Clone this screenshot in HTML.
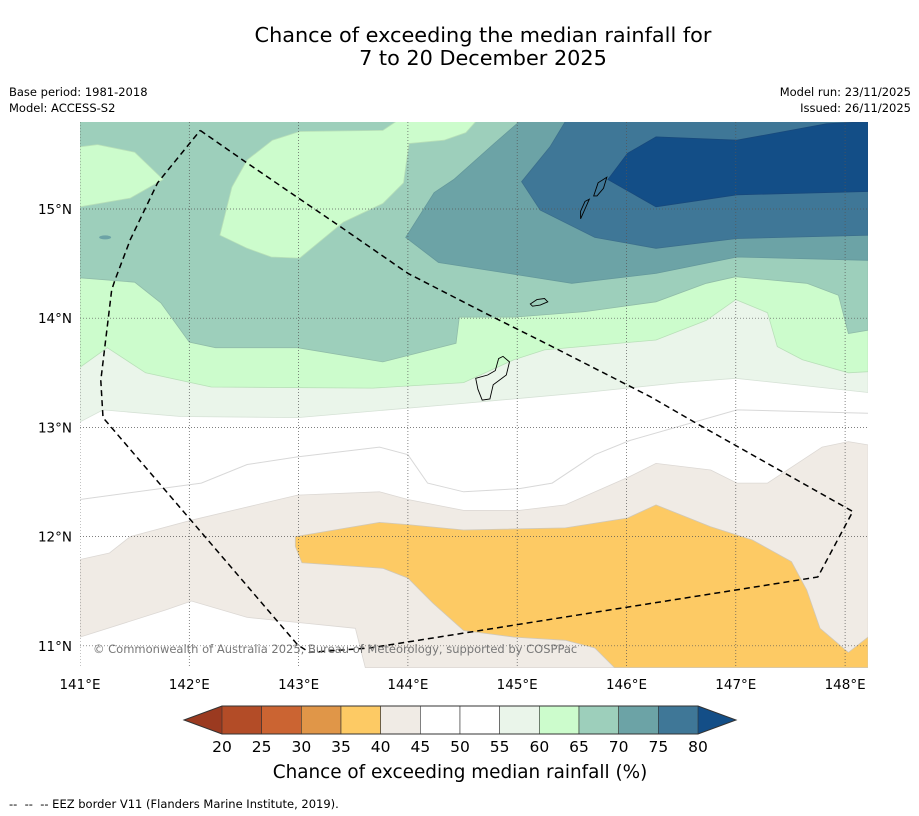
<!DOCTYPE html>
<html><head><meta charset="utf-8"><style>
body{margin:0;background:#fff;width:919px;height:816px;overflow:hidden;font-family:"DejaVu Sans",sans-serif;}
svg{display:block}
</style></head><body>
<svg id="chart" width="919" height="816" viewBox="0 0 919 816" xmlns="http://www.w3.org/2000/svg" font-family="DejaVu Sans, sans-serif">
<rect width="919" height="816" fill="#fff"/>
<text x="483" y="42" font-size="20.8" text-anchor="middle">Chance of exceeding the median rainfall for</text>
<text x="483" y="65" font-size="20.8" text-anchor="middle">7 to 20 December 2025</text>
<text x="9" y="96" font-size="11.5">Base period: 1981-2018</text>
<text x="9" y="112" font-size="11.5">Model: ACCESS-S2</text>
<text x="911" y="96" font-size="11.5" text-anchor="end">Model run: 23/11/2025</text>
<text x="911" y="112" font-size="11.5" text-anchor="end">Issued: 26/11/2025</text>
<defs><clipPath id="mapclip"><rect x="80" y="122" width="788" height="546"/></clipPath></defs>
<g id="map" clip-path="url(#mapclip)"></g>
<g id="axes"></g>
<g id="cbar"></g>
<text x="460" y="778" font-size="18.4" text-anchor="middle">Chance of exceeding median rainfall (%)</text>
<text x="9" y="808" font-size="11.5" xml:space="preserve" style="white-space:pre">--  --  -- EEZ border V11 (Flanders Marine Institute, 2019).</text>
</svg>
<script>
const lonMin = 141, lonMax = 148.21, latMin = 10.80, latMax = 15.80;
const lonTicks = [141,142,143,144,145,146,147,148];
const latTicks = [11,12,13,14,15];
const region40 = [[141,11.79],[141.27,11.85],[141.46,12.00],[142.02,12.15],[142.99,12.38],[143.74,12.41],[144.00,12.34],[144.51,12.24],[145.02,12.24],[145.44,12.29],[146.03,12.55],[146.27,12.67],[146.77,12.61],[147.01,12.49],[147.29,12.49],[147.79,12.82],[148.03,12.87],[148.21,12.84],[148.21,10.80],[143.61,10.80],[143.52,11.16],[143.03,11.21],[142.53,11.26],[142.02,11.41],[141.79,11.33],[141,11.08]];
const line50 = [[141,12.34],[142.11,12.49],[142.53,12.66],[142.99,12.73],[143.74,12.82],[144.00,12.75],[144.18,12.49],[144.51,12.41],[145.02,12.44],[145.32,12.49],[145.71,12.75],[146.03,12.88],[147.01,13.16],[148.21,13.13]];
const region35 = [[142.97,12.00],[143.74,12.13],[144.00,12.11],[144.51,12.06],[145.44,12.08],[146.01,12.17],[146.27,12.29],[146.77,12.09],[147.15,11.97],[147.51,11.77],[147.65,11.51],[147.77,11.16],[148.03,10.94],[148.21,11.08],[148.21,10.80],[145.89,10.80],[145.71,10.98],[145.44,11.05],[144.97,11.08],[144.51,11.14],[144.23,11.39],[144.00,11.62],[143.77,11.71],[143.03,11.76],[142.97,11.91]];
const line55 = [[141,13.05],[141.21,13.16],[141.92,13.10],[142.99,13.09],[144.51,13.22],[145.62,13.32],[146.49,13.41],[147.00,13.45],[148.21,13.32]];
const line60 = [[141,13.55],[141.25,13.73],[141.60,13.50],[142.20,13.37],[143.68,13.36],[144.51,13.41],[144.97,13.62],[145.25,13.71],[146.27,13.80],[146.73,13.98],[147.00,14.17],[147.29,14.05],[147.38,13.74],[147.61,13.62],[148.03,13.50],[148.21,13.51]];
const line65 = [[141,14.37],[141.50,14.33],[141.74,14.14],[142.00,13.78],[142.24,13.73],[142.99,13.73],[143.77,13.60],[144.44,13.77],[144.47,14.01],[144.97,14.01],[145.62,14.06],[146.27,14.15],[146.73,14.32],[147.00,14.38],[147.65,14.32],[147.94,14.21],[148.03,13.86],[148.21,13.89]];
const patch60a = [[141,15.57],[141.16,15.59],[141.50,15.52],[141.76,15.27],[141.46,15.10],[141,15.02]];
const patch60b = [[143.01,15.71],[142.76,15.63],[142.53,15.45],[142.39,15.20],[142.28,14.76],[142.53,14.64],[142.75,14.56],[143.01,14.55],[143.41,14.88],[143.77,15.05],[143.96,15.24],[144.01,15.60],[144.33,15.63],[144.53,15.70],[144.62,15.80],[143.89,15.80],[143.77,15.72]];
const region70 = [[145.02,15.80],[144.79,15.60],[144.42,15.27],[144.24,15.15],[143.98,14.74],[144.28,14.51],[144.92,14.41],[145.50,14.32],[146.27,14.41],[147.01,14.56],[148.21,14.53],[148.21,15.80]];
const region75 = [[145.44,15.80],[145.30,15.57],[145.04,15.25],[145.21,14.99],[145.71,14.74],[146.27,14.64],[147.01,14.73],[148.21,14.76],[148.21,15.80]];
const region80 = [[146.27,15.66],[147.01,15.63],[147.83,15.78],[148.21,15.80],[148.21,15.16],[147.01,15.13],[146.27,15.02],[145.83,15.27],[146.01,15.51]];
const eez = [[142.10,15.72],[142.53,15.42],[143.38,14.84],[144.00,14.41],[144.70,14.05],[145.30,13.75],[146.22,13.28],[146.67,13.02],[148.07,12.23],[147.75,11.63],[143.65,10.98],[143.10,10.94],[142.99,11.01],[141.21,13.09],[141.19,13.43],[141.29,14.26],[141.32,14.35],[141.46,14.72],[141.71,15.24],[142.10,15.72]];
const guam = [[144.62,13.45],[144.73,13.48],[144.80,13.52],[144.83,13.63],[144.87,13.65],[144.93,13.60],[144.90,13.48],[144.78,13.39],[144.75,13.26],[144.68,13.25],[144.64,13.35]];
const rota = [[145.12,14.13],[145.18,14.17],[145.25,14.18],[145.28,14.15],[145.21,14.12],[145.14,14.11]];
const tinian = [[145.58,14.91],[145.62,15.00],[145.66,15.09],[145.62,15.07],[145.58,14.98]];
const saipan = [[145.70,15.12],[145.74,15.24],[145.82,15.29],[145.79,15.19],[145.73,15.12]];
const cbarLevels = [20,25,30,35,40,45,50,55,60,65,70,75,80];
const cbarColors = ["#b34c27","#cb6432","#e09648","#fdca64","#f0ebe5","#ffffff","#ffffff","#eaf5ea","#ccfccc","#9dcfbb","#6ca3a6","#3f7797"];
const cbarUnder = "#9b3a20", cbarOver = "#134e87";

const NS = "http://www.w3.org/2000/svg";
const X = lon => 80 + (lon - lonMin) * 109.3;
const Y = lat => 209 + (15 - lat) * 109.2;
const pts = a => a.map(p => X(p[0]).toFixed(1) + "," + Y(p[1]).toFixed(1)).join(" ");
function mk(parent, tag, attrs){const e=document.createElementNS(NS,tag);for(const k in attrs)e.setAttribute(k,attrs[k]);parent.appendChild(e);return e;}
const mapG = document.getElementById("map");
function poly(a, fill, name, stroke){
  const e = mk(mapG,"polygon",{points:pts(a),fill:fill,stroke:stroke||"none","stroke-width":0.8});
  
  
  return e;
}
const topEdge = [[lonMax,latMax],[lonMin,latMax]];
const bg = mk(mapG,"rect",{x:80,y:122,width:788,height:546,fill:"#fff"});


poly(region40,"#f0ebe5","region-40-45","#dcd8d4");
poly(region35,"#fdca64","region-35-40","#d0c8b8");
poly(line55.concat(topEdge),"#eaf5ea","region-55-60","#d6e2d6");
poly(line60.concat(topEdge),"#ccfccc","region-60-65","#b8e0b8");
poly(line65.concat(topEdge),"#9dcfbb","region-65-70","#90bca9");
poly(patch60a,"#ccfccc","patch-60-65-west","#b8e0b8");
poly(patch60b,"#ccfccc","patch-60-65-north","#b8e0b8");
poly(region70,"#6ca3a6","region-70-75","#64989b");
poly(region75,"#3f7797","region-75-80","#3c6f8c");
poly(region80,"#134e87","region-above-80","#18497c");
const l50 = mk(mapG,"polyline",{points:pts(line50),fill:"none",stroke:"#d8d8d8","stroke-width":1});


const blob = mk(mapG,"ellipse",{cx:X(141.23),cy:Y(14.74),rx:6,ry:2,fill:"#6ca3a6"});


lonTicks.forEach(l=>{const g=mk(mapG,"line",{x1:X(l),x2:X(l),y1:122,y2:668,stroke:"#555","stroke-width":0.7,"stroke-dasharray":"1,2"});

});
latTicks.forEach(l=>{const g=mk(mapG,"line",{x1:80,x2:868,y1:Y(l),y2:Y(l),stroke:"#555","stroke-width":0.7,"stroke-dasharray":"1,2"});

});
[[guam,"guam-island"],[rota,"rota-island"],[tinian,"tinian-island"],[saipan,"saipan-island"]].forEach(([a,n])=>{
  const e=mk(mapG,"polygon",{points:pts(a),fill:"none",stroke:"#000","stroke-width":0.9});
  
  
});
const ez = mk(mapG,"polyline",{points:pts(eez),fill:"none",stroke:"#000","stroke-width":1.5,"stroke-dasharray":"6,4"});


const cp = mk(mapG,"text",{x:93,y:653,"font-size":11.5,fill:"#777"});
cp.textContent = "© Commonwealth of Australia 2025, Bureau of Meteorology, supported by COSPPac";


const axes = document.getElementById("axes");
lonTicks.forEach(l=>{const t=mk(axes,"text",{x:X(l),y:689,"font-size":13.5,"text-anchor":"middle"});t.textContent=l+"°E";

});
latTicks.forEach(l=>{const t=mk(axes,"text",{x:72,y:Y(l)+5,"font-size":13.5,"text-anchor":"end"});t.textContent=l+"°N";

});
const cb = document.getElementById("cbar");
const cx0 = 222, cx1 = 698, cy0 = 706, cy1 = 734;
const CX = v => cx0 + (v - cbarLevels[0]) / (cbarLevels[cbarLevels.length-1]-cbarLevels[0]) * (cx1-cx0);
const under = mk(cb,"polygon",{points:`${cx0},${cy0} 184,${(cy0+cy1)/2} ${cx0},${cy1}`,fill:cbarUnder});


const over = mk(cb,"polygon",{points:`${cx1},${cy0} 736,${(cy0+cy1)/2} ${cx1},${cy1}`,fill:cbarOver});


cbarColors.forEach((c,i)=>{const r=mk(cb,"rect",{x:CX(cbarLevels[i]),y:cy0,width:CX(cbarLevels[i+1])-CX(cbarLevels[i]),height:cy1-cy0,fill:c,stroke:"#333","stroke-width":0.6});

});
const outline = mk(cb,"polygon",{points:`184,${(cy0+cy1)/2} ${cx0},${cy0} ${cx1},${cy0} 736,${(cy0+cy1)/2} ${cx1},${cy1} ${cx0},${cy1}`,fill:"none",stroke:"#333","stroke-width":1});


cbarLevels.forEach(v=>{const t=mk(cb,"text",{x:CX(v),y:752,"font-size":15.5,"text-anchor":"middle"});t.textContent=v;

});
</script>
</body></html>
